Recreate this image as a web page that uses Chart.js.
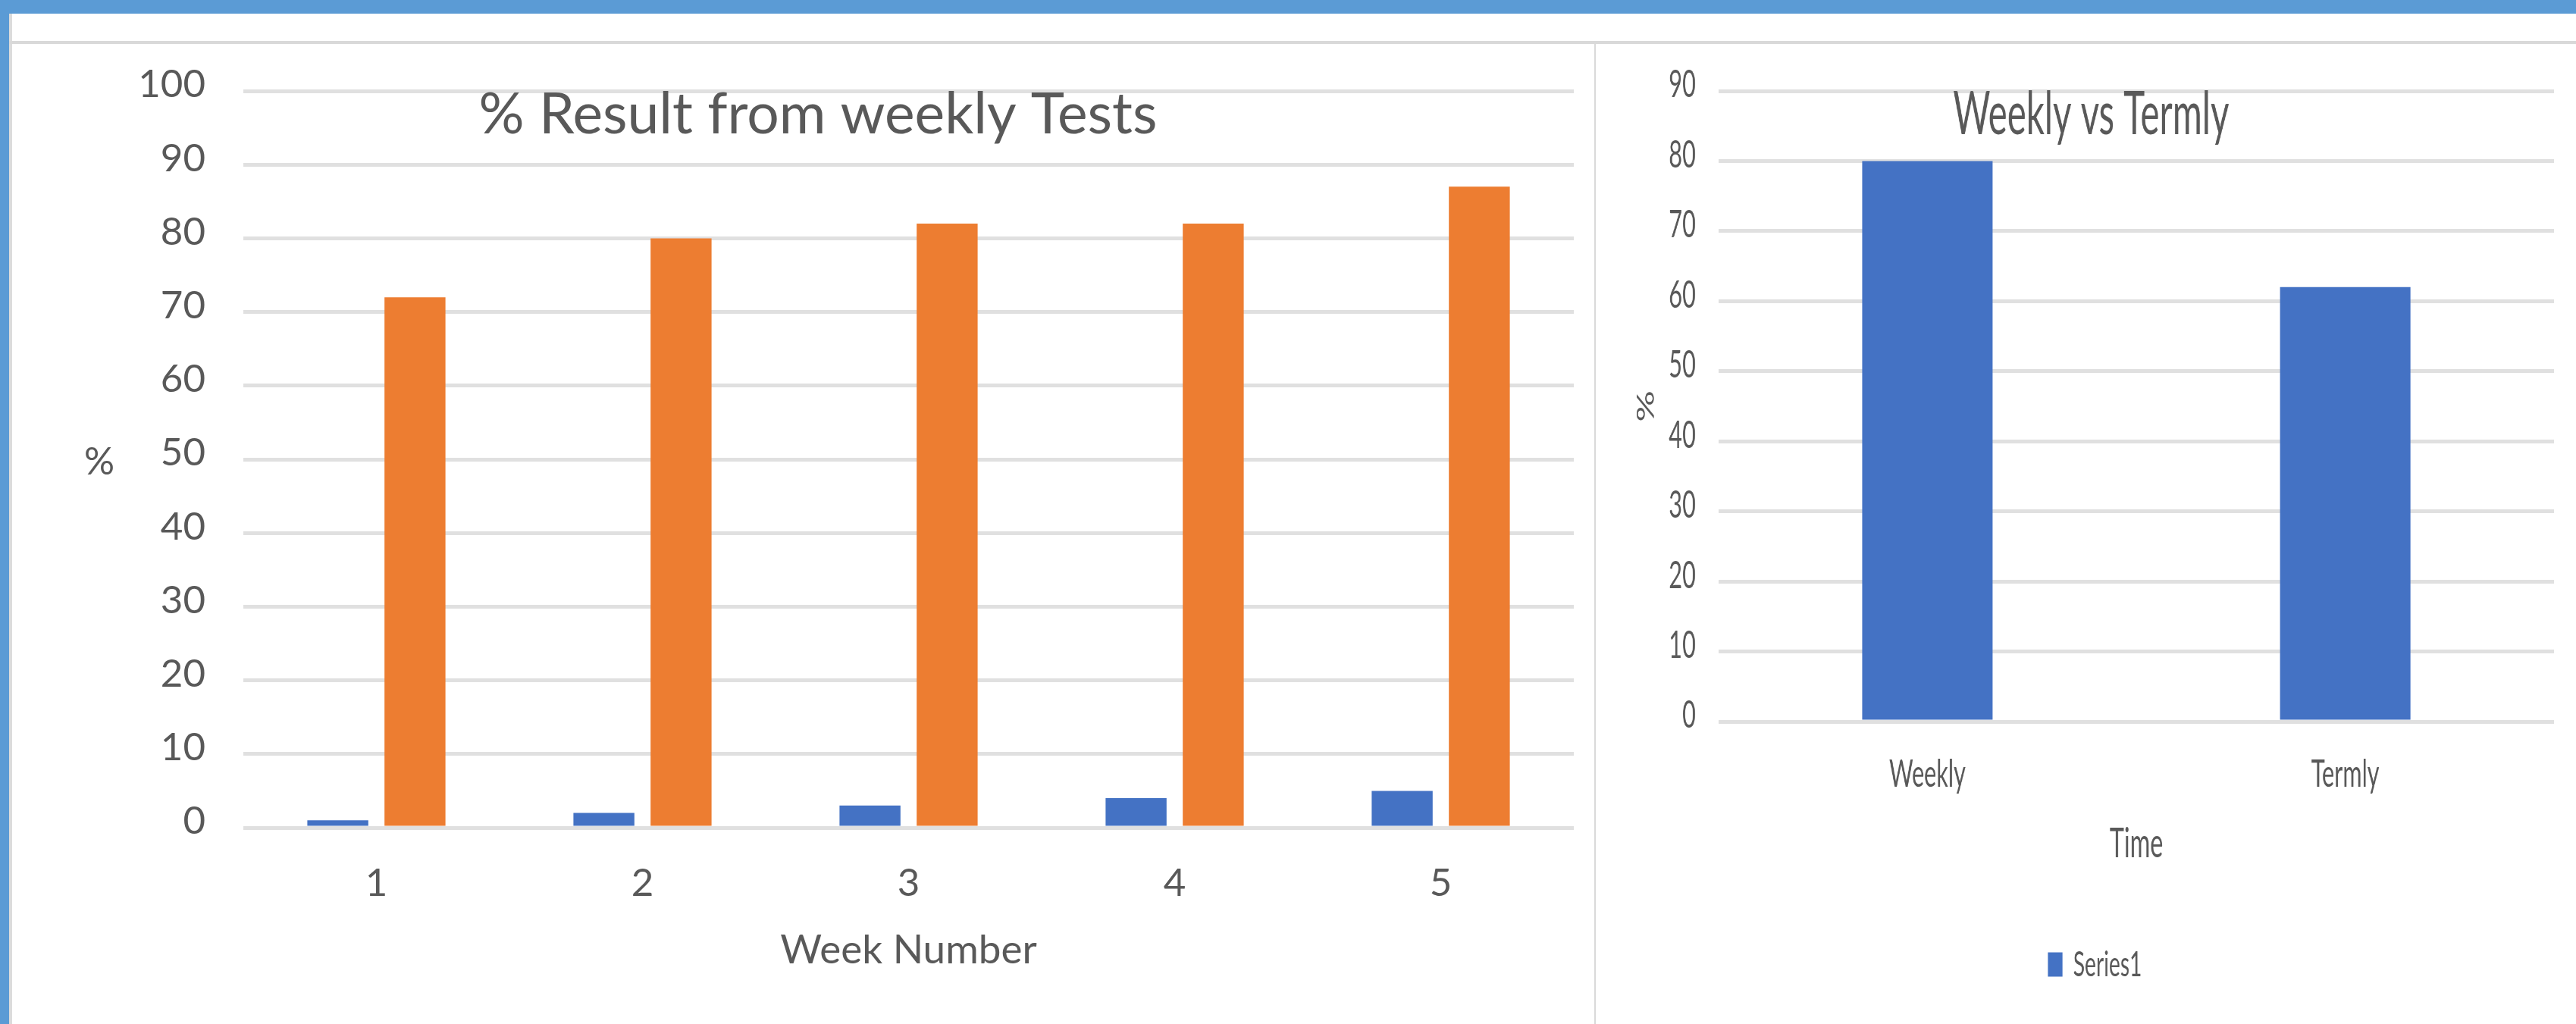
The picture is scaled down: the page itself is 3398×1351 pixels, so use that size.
<!DOCTYPE html>
<html>
<head>
<meta charset="utf-8">
<script src="https://cdn.jsdelivr.net/npm/chart.js@4.4.1/dist/chart.umd.min.js"></script>
<style>
html,body{margin:0;padding:0;background:#fff;width:3398px;height:1351px;overflow:hidden;position:relative}
#topband{position:absolute;left:0;top:0;width:3398px;height:18px;background:#5b9bd5}
#leftband{position:absolute;left:0;top:0;width:12px;height:1351px;background:#5b9bd5}
#leftborder{position:absolute;left:12px;top:18px;width:4px;height:1333px;background:#dcdcdc}
#topline{position:absolute;left:12px;top:54px;width:3386px;height:4px;background:#d9d9d9}
#sep{position:absolute;left:2103px;top:58px;width:2px;height:1293px;background:#d9d9d9}
#leftWrap{position:absolute;left:16px;top:58px;width:2086px;height:1293px}
#rightWrap{position:absolute;left:2106px;top:58px;width:2153px;height:1293px;transform-origin:0 0;transform:scaleX(0.600093)}
canvas{display:block}
</style>
</head>
<body>
<div id="topband"></div>
<div id="leftband"></div>
<div id="leftborder"></div>
<div id="topline"></div>
<div id="sep"></div>
<div id="leftWrap"><canvas id="leftChart" width="2086" height="1293"></canvas></div>
<div id="rightWrap"><canvas id="rightChart" width="2153" height="1293"></canvas></div>
<script>
// ---- Data ----
const weekLabels = ['1', '2', '3', '4', '5'];
const weeklySeriesBlue = [1, 2, 3, 4, 5];
const weeklySeriesOrange = [72, 80, 82, 82, 87];
const leftTitle = '% Result from weekly Tests';
const leftXTitle = 'Week Number';
const leftYTitle = '%';
const leftYMax = 100;
const leftYStep = 10;

const timeLabels = ['Weekly', 'Termly'];
const timeSeries1 = [80, 62];
const rightTitle = 'Weekly vs Termly';
const rightXTitle = 'Time';
const rightYTitle = '%';
const rightSeriesName = 'Series1';
const rightYMax = 90;
const rightYStep = 10;

// ---- Styles ----
const FONT = 'Lato, "Liberation Sans", sans-serif';
const TXT = '#595959';
const GRID = '#e0e0e0';
const BLUE = '#4472c4';
const ORANGE = '#ed7d31';

const overlayText = {
  id: 'overlayText',
  afterDraw(chart, args, opts) {
    const ctx = chart.ctx;
    (opts.items || []).forEach(it => {
      ctx.save();
      ctx.font = it.size + 'px ' + FONT;
      ctx.fillStyle = TXT;
      ctx.textAlign = 'center';
      ctx.textBaseline = 'middle';
      ctx.fillText(it.text, it.x, it.y);
      ctx.restore();
    });
  }
};

Chart.defaults.font.family = FONT;
Chart.defaults.color = TXT;

new Chart(document.getElementById('leftChart'), {
  type: 'bar',
  data: {
    labels: weekLabels,
    datasets: [
      { label: 'Series1', data: weeklySeriesBlue, backgroundColor: BLUE, borderWidth: 0 },
      { label: 'Series2', data: weeklySeriesOrange, backgroundColor: ORANGE, borderWidth: 0 }
    ]
  },
  options: {
    responsive: false,
    animation: false,
    layout: { padding: { left: 0, right: 26, top: 62, bottom: 0 } },
    datasets: { bar: { categoryPercentage: 0.58, barPercentage: 0.79 } },
    plugins: {
      legend: { display: false },
      tooltip: { enabled: false },
      title: { display: false },
      overlayText: {
        items: [
          { text: leftTitle, x: 1063, y: 94, size: 75 },
          { text: leftYTitle, x: 115, y: 552, size: 50 }
        ]
      }
    },
    scales: {
      x: {
        grid: { display: false },
        border: { display: false },
        ticks: { font: { size: 51 }, color: TXT, padding: 35 },
        title: { display: true, text: leftXTitle, font: { size: 53 }, color: TXT, padding: { top: 0, bottom: 65 } },
        afterFit(scale) { scale.height = 259; }
      },
      y: {
        min: 0, max: leftYMax,
        grid: { color: GRID, lineWidth: 5, drawTicks: true, tickLength: 50, tickColor: 'rgba(0,0,0,0)' },
        border: { display: false },
        ticks: { stepSize: leftYStep, font: { size: 51 }, color: TXT, padding: 0, labelOffset: -8 },
        afterFit(scale) { scale.width = 305; }
      }
    }
  },
  plugins: [overlayText]
});

new Chart(document.getElementById('rightChart'), {
  type: 'bar',
  data: {
    labels: timeLabels,
    datasets: [
      { label: rightSeriesName, data: timeSeries1, backgroundColor: BLUE, borderWidth: 0 }
    ]
  },
  options: {
    responsive: false,
    animation: false,
    layout: { padding: { left: 86, right: 48, top: 62, bottom: 45 } },
    datasets: { bar: { categoryPercentage: 1, barPercentage: 0.312 } },
    plugins: {
      legend: {
        display: true,
        position: 'bottom',
        labels: { boxWidth: 32, boxHeight: 32, padding: 10, font: { size: 47 }, color: TXT }
      },
      tooltip: { enabled: false },
      title: { display: false },
      overlayText: {
        items: [
          { text: rightTitle, x: 1087, y: 94, size: 79 }
        ]
      }
    },
    scales: {
      x: {
        grid: { display: false },
        border: { display: false },
        ticks: { font: { size: 51 }, color: TXT, padding: 31 },
        title: { display: true, text: rightXTitle, font: { size: 54 }, color: TXT, padding: { top: 0, bottom: 93 } },
        afterFit(scale) { scale.height = 287; }
      },
      y: {
        min: 0, max: rightYMax,
        grid: { color: GRID, lineWidth: 5, drawTicks: true, tickLength: 50, tickColor: 'rgba(0,0,0,0)' },
        border: { display: false },
        ticks: { stepSize: rightYStep, font: { size: 51 }, color: TXT, padding: 0, labelOffset: -8 },
        title: { display: true, text: rightYTitle, font: { size: 52 }, color: TXT, padding: { top: -8, bottom: 0 } },
        afterFit(scale) { scale.width = 182; }
      }
    }
  },
  plugins: [overlayText]
});
</script>
</body>
</html>
